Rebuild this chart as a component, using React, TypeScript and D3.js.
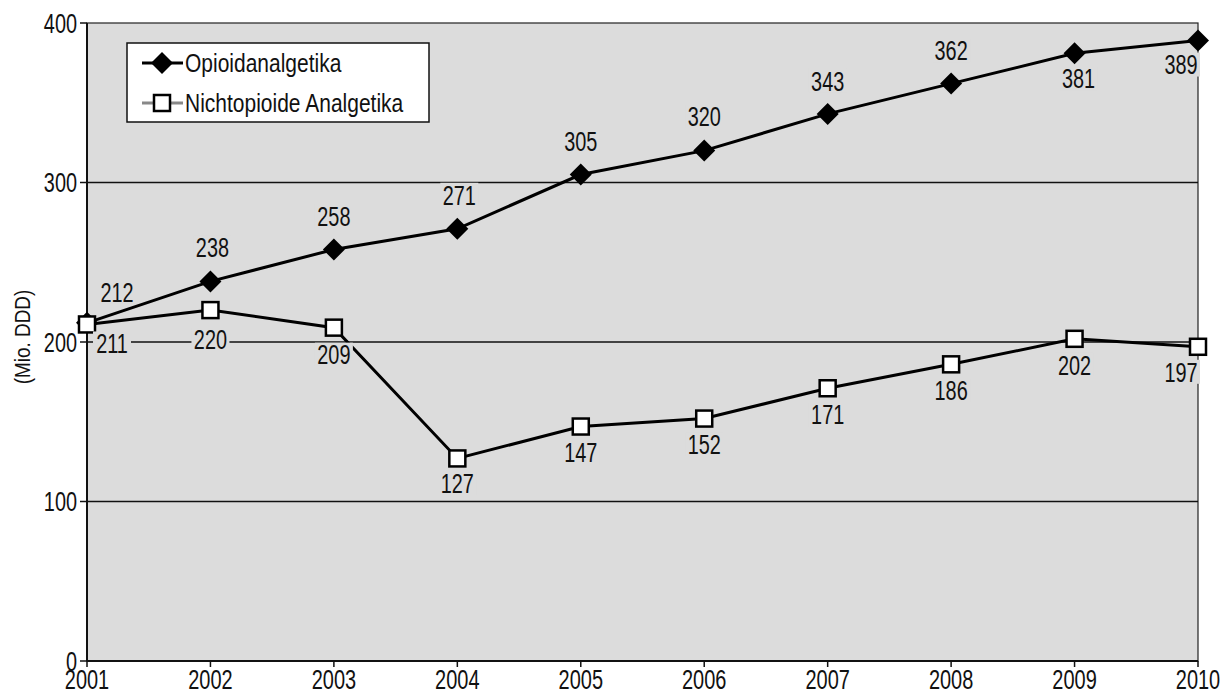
import React from "react";
import * as d3 from "d3";

const years = [2001, 2002, 2003, 2004, 2005, 2006, 2007, 2008, 2009, 2010];
const opioid = [212, 238, 258, 271, 305, 320, 343, 362, 381, 389];
const nichtOpioid = [211, 220, 209, 127, 147, 152, 171, 186, 202, 197];
const yTicks = [0, 100, 200, 300, 400];
const seriesNames = ["Opioidanalgetika", "Nichtopioide Analgetika"];
const yTitle = "(Mio. DDD)";
// label placement: dx, dy offsets of label center from point
const opioidLabelPos: [number, number][] = [
  [30, -31], [2, -34], [0, -33], [2, -34], [0, -33], [0, -34], [0, -33], [0, -33], [4, 25], [-17, 24],
];
const nichtLabelPos: [number, number][] = [
  [25, 19], [0, 29], [0, 27], [0, 25], [0, 26], [0, 26], [0, 26], [0, 26], [0, 26], [-17, 25],
];

const W = 1229, H = 695;
const M = { left: 87, right: 1198, top: 23, bottom: 661 };
const FONT = "'Liberation Sans', Arial, sans-serif";
const BG = "#dcdcdc";
const NUM_SIZE = 28;
const NUM_SX = 0.71;

function Txt(props: {
  x: number; y: number; size: number; anchor?: string; rotate?: number; sx?: number; baseline?: string; children: React.ReactNode;
}) {
  const { x, y, size, anchor = "middle", rotate = 0, sx = NUM_SX, baseline = "central", children } = props;
  return (
    <text
      transform={`translate(${x},${y}) rotate(${rotate}) scale(${sx},1)`}
      textAnchor={anchor}
      dominantBaseline={baseline}
      fontSize={size}
      fontFamily={FONT}
      fill="#111"
    >
      {children}
    </text>
  );
}

export default function App() {
  const x = d3.scaleLinear().domain([2001, 2010]).range([M.left, M.right]);
  const y = d3.scaleLinear().domain([0, 400]).range([M.bottom, M.top]);
  const line = d3.line<number>().x((_, i) => x(years[i])).y((d) => y(d));

  const diamond = (cx: number, cy: number, r: number) =>
    `M${cx},${cy - r}L${cx + r},${cy}L${cx},${cy + r}L${cx - r},${cy}Z`;

  const label = (v: number, cx: number, cy: number, key: string) => {
    const w = 38, h = 24;
    return (
      <g key={key}>
        <rect x={cx - w / 2} y={cy - h / 2} width={w} height={h} fill={BG} />
        <Txt x={cx} y={cy} size={NUM_SIZE}>{v}</Txt>
      </g>
    );
  };

  return (
    <svg width={W} height={H} style={{ position: "absolute", left: 0, top: 0, background: "#fff" }}>
      <rect x={M.left} y={M.top} width={M.right - M.left} height={M.bottom - M.top} fill={BG} stroke="#222" strokeWidth={1.2} />
      {yTicks.filter((t) => t > 0 && t < 400).map((t) => (
        <line key={"g" + t} x1={M.left} x2={M.right} y1={y(t)} y2={y(t)} stroke="#111" strokeWidth={1.5} />
      ))}
      {/* axes */}
      <line x1={M.left} x2={M.left} y1={M.top} y2={M.bottom} stroke="#111" strokeWidth={2} />
      <line x1={M.left} x2={M.right} y1={M.bottom} y2={M.bottom} stroke="#111" strokeWidth={2} />
      {yTicks.map((t) => (
        <g key={"y" + t}>
          <line x1={M.left - 7} x2={M.left} y1={y(t)} y2={y(t)} stroke="#111" strokeWidth={1.5} />
          <Txt x={M.left - 10} y={y(t)} size={NUM_SIZE} anchor="end">{t}</Txt>
        </g>
      ))}
      {years.map((yr) => (
        <g key={"x" + yr}>
          <line x1={x(yr)} x2={x(yr)} y1={M.bottom} y2={M.bottom + 6} stroke="#111" strokeWidth={1.5} />
          <Txt x={x(yr)} y={689} size={27} sx={0.74} baseline="alphabetic">{yr}</Txt>
        </g>
      ))}
      <Txt x={22} y={337} size={22} rotate={-90} sx={0.86}>{yTitle}</Txt>

      {/* Opioid series */}
      <path d={line(opioid) || ""} fill="none" stroke="#000" strokeWidth={3} />
      {opioid.map((v, i) => (
        <path key={"d" + i} d={diamond(x(years[i]), y(v), 11)} fill="#000" />
      ))}
      {/* Nichtopioid series */}
      <path d={line(nichtOpioid) || ""} fill="none" stroke="#000" strokeWidth={3} />
      {nichtOpioid.map((v, i) => (
        <rect key={"s" + i} x={x(years[i]) - 8} y={y(v) - 8} width={16} height={16} fill="#fff" stroke="#000" strokeWidth={2.5} />
      ))}

      {/* labels */}
      {opioid.map((v, i) => label(v, x(years[i]) + opioidLabelPos[i][0], y(v) + opioidLabelPos[i][1], "lo" + i))}
      {nichtOpioid.map((v, i) => label(v, x(years[i]) + nichtLabelPos[i][0], y(v) + nichtLabelPos[i][1], "ln" + i))}

      {/* legend */}
      <g>
        <rect x={127} y={43} width={302} height={79} fill="#fff" stroke="#111" strokeWidth={1.5} />
        <line x1={142} x2={183} y1={63} y2={63} stroke="#000" strokeWidth={3} />
        <path d={diamond(162, 63, 11)} fill="#000" />
        <Txt x={185} y={63} size={25} anchor="start" sx={0.84}>{seriesNames[0]}</Txt>
        <line x1={142} x2={183} y1={103} y2={103} stroke="#888" strokeWidth={3} />
        <rect x={154} y={95} width={16} height={16} fill="#fff" stroke="#000" strokeWidth={2.5} />
        <Txt x={185} y={103} size={25} anchor="start" sx={0.84}>{seriesNames[1]}</Txt>
      </g>
    </svg>
  );
}
